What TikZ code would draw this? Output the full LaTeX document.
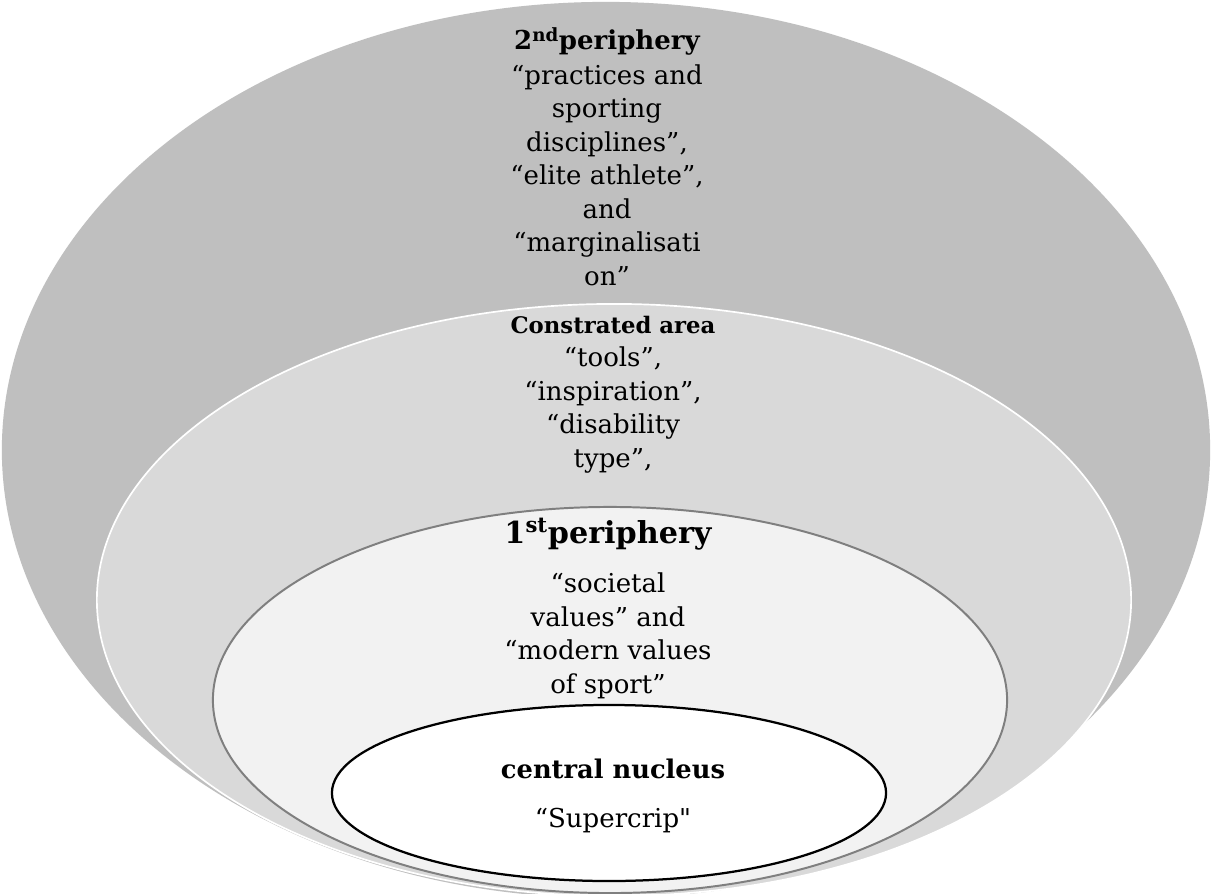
\documentclass[tikz,border=0pt]{standalone}
\usepackage{fontspec}
\setmainfont{DejaVu Serif}
\newfontfamily\plainquote{DejaVu Serif}
\usetikzlibrary{shapes.geometric,calc}
\definecolor{ringdark}{HTML}{BFBFBF}
\definecolor{ringmid}{HTML}{D9D9D9}
\definecolor{ringlight}{HTML}{F2F2F2}
\definecolor{ringline}{HTML}{7F7F7F}

\begin{document}
\begin{tikzpicture}[
			x=0.025cm,y=-0.025cm,
			ring/.style={ellipse,inner sep=0pt,outer sep=0pt},
			body/.style={align=center,inner sep=0pt,anchor=base,font=\fontsize{18.5}{23.8}\selectfont},
			ttl/.style={align=center,inner sep=0pt,anchor=base,font=\bfseries\fontsize{18.5}{23.8}\selectfont}
			]
			\useasboundingbox (0,0) rectangle (1212,894);
			\fill[white] (0,0) rectangle (1212,894);
			% rings, outer to inner
			\node[ring,fill=ringdark,minimum width=30.2cm,minimum height=22.4cm] (per2) at (606,450) {};
			\node[ring,fill=ringmid,draw=white,line width=1.2pt,minimum width=25.85cm,minimum height=14.8cm] (contr) at (614,600) {};
			\node[ring,fill=ringlight,draw=ringline,line width=1.4pt,minimum width=19.85cm,minimum height=9.65cm] (per1) at (610,700) {};
			\node[ring,fill=white,draw=black,line width=1.6pt,minimum width=13.85cm,minimum height=4.4cm] (nuc) at (609,793) {};
			% texts (base = last line)
			\node[ttl] (per2ttl) at (607,50) {2\textsuperscript{nd}periphery};
			\node[body] (per2txt) at (607,285) {“practices and\\sporting\\disciplines”,\\“elite athlete”,\\and\\“marginalisati\\on”};
			\node[ttl,font=\bfseries\fontsize{16.2}{20}\selectfont] (contrttl) at (613,333) {Constrated area};
			\node[body] (contrtxt) at (613,467) {“tools”,\\“inspiration”,\\“disability\\type”,};
			\node[ttl,font=\bfseries\fontsize{21.5}{26}\selectfont] (per1ttl) at (608,543) {1\textsuperscript{st}periphery};
			\node[body] (per1txt) at (608,693) {“societal\\values” and\\“modern values\\of sport”};
			\node[ttl,font=\bfseries\fontsize{18.3}{22}\selectfont] (nucttl) at (613,778) {central nucleus};
			\node[body] (nuctxt) at (613,827) {“Supercrip{\plainquote"}};
		\end{tikzpicture}
\end{document}
